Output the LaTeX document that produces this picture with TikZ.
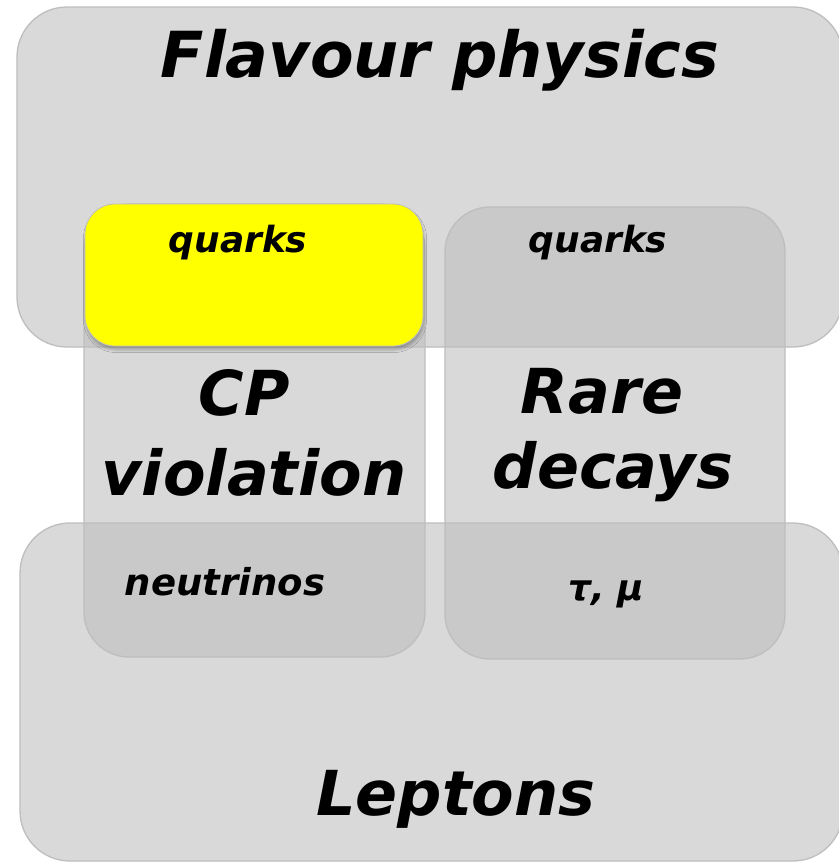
\documentclass[tikz,border=0pt]{standalone}
\usepackage{fontspec}
\setmainfont{DejaVu Sans}
\usetikzlibrary{shadows.blur}
\definecolor{boxfill}{RGB}{190,190,190}
\definecolor{boxline}{RGB}{190,190,190}
\definecolor{hl}{RGB}{255,255,0}
\tikzset{
  region/.style={draw=boxline, line width=1.3pt, fill=boxfill, fill opacity=0.58},
  hlbox/.style={draw=boxline, line width=0.8pt, fill=hl, rounded corners=30pt,
     blur shadow={shadow xshift=1pt, shadow yshift=-4pt, shadow blur radius=2.5pt, shadow opacity=25}},
  big/.style={font=\fontsize{62}{70}\selectfont\bfseries\itshape, inner sep=0pt, anchor=base},
  small/.style={font=\fontsize{36}{40}\selectfont\bfseries\itshape, inner sep=0pt, anchor=base},
}
\begin{document}
\begin{tikzpicture}[x=1pt, y=-1pt]
\useasboundingbox (0,0) rectangle (838,862);
\fill[white] (0,0) rectangle (838,862);
% regions
\draw[region, rounded corners=50pt] (17,7) rectangle (843,347);
\draw[region, rounded corners=50pt] (20,523) rectangle (843,861);
\draw[region, rounded corners=45pt] (84,204) rectangle (425,657);
\draw[region, rounded corners=45pt] (445,207) rectangle (785,659);
\draw[hlbox] (85,204) rectangle (423,346);
% texts
\node[big, font=\fontsize{63.5}{70}\selectfont\bfseries\itshape] (flav) at (440,77) {Flavour physics};
\node[small] (q1) at (238,252) {quarks};
\node[small] (q2) at (598,252) {quarks};
\node[big] (cp) at (244,415) {CP};
\node[big] (viol) at (254,495) {violation};
\node[big] (rare) at (602,413) {Rare};
\node[big] (dec) at (613,488) {decays};
\node[small, font=\fontsize{37}{40}\selectfont\bfseries\itshape] (nu) at (225,595) {neutrinos};
\node[small] (taumu) at (606,600) {τ, μ};
\node[big] (lep) at (456,815) {Leptons};
\end{tikzpicture}
\end{document}
